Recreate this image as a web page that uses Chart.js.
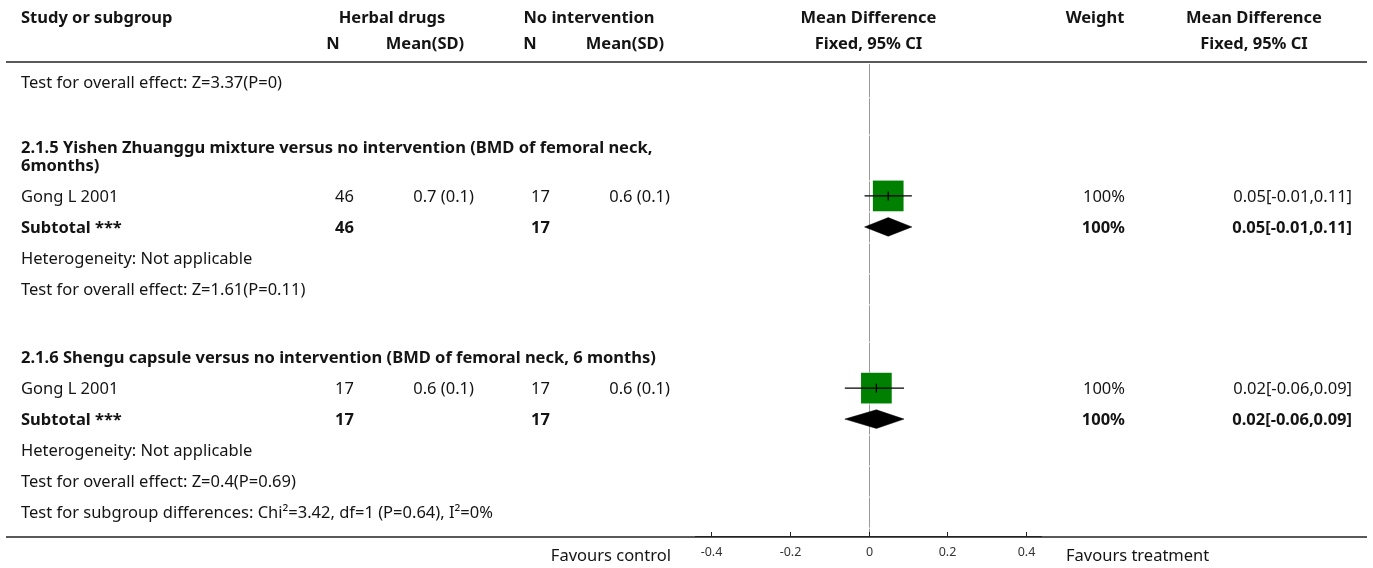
<!DOCTYPE html>
<html>
<head>
<meta charset="utf-8">
<script src="https://cdn.jsdelivr.net/npm/chart.js@4.4.1/dist/chart.umd.min.js"></script>
<style>
  html, body { margin: 0; padding: 0; background: #fff; }
  #wrap { width: 1373px; height: 568px; position: relative; }
</style>
</head>
<body>
<div id="wrap"><canvas id="forest" width="1373" height="568"></canvas></div>
<script>
// ---- data ----
const subgroupTitles = [
  ['2.1.5 Yishen Zhuanggu mixture versus no intervention (BMD of femoral neck,', '6months)'],
  ['2.1.6 Shengu capsule versus no intervention (BMD of femoral neck, 6 months)']
];
const studyNames = ['Gong L 2001', 'Gong L 2001'];
const herbalN = [46, 17];
const herbalMeanSD = ['0.7 (0.1)', '0.6 (0.1)'];
const controlN = [17, 17];
const controlMeanSD = ['0.6 (0.1)', '0.6 (0.1)'];
const meanDiff = [0.05, 0.02];
const ciLow = [-0.01, -0.06];
const ciHigh = [0.11, 0.09];
const weightPct = [100, 100];
const subtotalMeanDiff = [0.05, 0.02];
const subtotalLow = [-0.01, -0.06];
const subtotalHigh = [0.11, 0.09];
const heterogeneity = ['Not applicable', 'Not applicable'];
const overallEffect = ['Z=1.61(P=0.11)', 'Z=0.4(P=0.69)'];
const previousOverallEffect = 'Z=3.37(P=0)';
const subgroupDifferences = 'Chi\u00B2=3.42, df=1 (P=0.64), I\u00B2=0%';
const axisTicks = [-0.4, -0.2, 0, 0.2, 0.4];
const axisRange = [-0.44, 0.44];

// ---- table rows ----
const rows = [];
rows.push({ kind: 'note', text: 'Test for overall effect: ' + previousOverallEffect });
subgroupTitles.forEach((title, i) => {
  rows.push({ kind: 'blank' });
  rows.push({ kind: 'title', lines: title });
  rows.push({ kind: 'study', i });
  rows.push({ kind: 'subtotal', i });
  rows.push({ kind: 'note', text: 'Heterogeneity: ' + heterogeneity[i] });
  rows.push({ kind: 'note', text: 'Test for overall effect: ' + overallEffect[i] });
});
rows.push({ kind: 'note', text: 'Test for subgroup differences: ' + subgroupDifferences });

// vertical layout in row units
const ROW_PX = 31;
const TITLE_LINE = 0.58;   // spacing of wrapped title lines
const TITLE_TRIM = 0.1;    // wrapped titles sit a little tighter
const BLANK_EXTRA = 0.2;
let cursor = 0.14;
rows.forEach(r => {
  if (r.kind === 'blank') { cursor += 1 + BLANK_EXTRA; r.top = cursor; return; }
  r.top = cursor;
  const n = r.kind === 'title' ? r.lines.length : 1;
  const trim = n > 1 ? TITLE_TRIM : 0;
  r.y = cursor + 0.5 - trim;
  r.bottom = cursor + 1 + TITLE_LINE * (n - 1) - trim;
  cursor = r.bottom;
});
const TOP_RULE = 62, BOTTOM_RULE = 537;
const yMax = (BOTTOM_RULE - TOP_RULE) / ROW_PX;
const TEXT_DY = 1.5;       // optical centring of text within a row

const studyRow = i => rows.find(r => r.kind === 'study' && r.i === i).y;
const subtotalRow = i => rows.find(r => r.kind === 'subtotal' && r.i === i).y;

const fmt = v => v.toFixed(2);
const ciText = (m, l, h) => fmt(m) + '[' + fmt(l) + ',' + fmt(h) + ']';

// ---- datasets ----
const datasets = [];
meanDiff.forEach((m, i) => {
  const y = studyRow(i);
  // confidence interval whisker
  datasets.push({
    type: 'line', order: 0,
    data: [{ x: ciLow[i], y }, { x: ciHigh[i], y }],
    borderColor: '#000', borderWidth: 1.2, pointRadius: 0, fill: false
  });
  // point estimate tick
  datasets.push({
    type: 'scatter', order: 0,
    data: [{ x: m, y }],
    pointStyle: 'line', rotation: 90, pointRadius: 4.5,
    borderColor: '#000', borderWidth: 1.3
  });
  // weighted square
  datasets.push({
    type: 'scatter', order: 3,
    data: [{ x: m, y }],
    pointStyle: 'rect', pointRadius: 21.7 * Math.sqrt(weightPct[i] / 100),
    backgroundColor: '#008000', borderWidth: 0
  });
});
const DIAMOND_HALF = 0.3;
subtotalMeanDiff.forEach((m, i) => {
  const y = subtotalRow(i);
  datasets.push({
    type: 'line', order: 1,
    data: [
      { x: subtotalLow[i], y }, { x: m, y: y - DIAMOND_HALF },
      { x: subtotalHigh[i], y }, { x: m, y: y + DIAMOND_HALF },
      { x: subtotalLow[i], y }
    ],
    borderColor: '#000', borderWidth: 0.5, backgroundColor: '#000',
    pointRadius: 0, fill: 'shape', tension: 0
  });
});

// ---- drawing helpers ----
const FONT = '"Noto Sans", "Open Sans", sans-serif';
const TEXT = '#141414';
const BODY_SIZE = 16.5, BOLD_SIZE = 16.5;
function txt(ctx, s, x, y, align, bold, size, color) {
  ctx.font = (bold ? 'bold ' : '') + (size || (bold ? BOLD_SIZE : BODY_SIZE)) + 'px ' + FONT;
  ctx.textAlign = align || 'left';
  ctx.textBaseline = 'middle';
  ctx.fillStyle = color || TEXT;
  ctx.fillText(s, x, y);
}
function hline(ctx, x1, x2, y, w, color) {
  ctx.beginPath();
  ctx.lineWidth = w;
  ctx.strokeStyle = color;
  ctx.moveTo(x1, y); ctx.lineTo(x2, y);
  ctx.stroke();
}

// column anchors: value right edges and header centres
const COL = {
  left: 21,
  n1: 354, mean1: 474, n2: 550, mean2: 670,
  weight: 1125, md: 1352
};
const HEAD = {
  herbal: 392, control: 589,
  n1: 333, mean1: 425, n2: 530, mean2: 625,
  weight: 1095, md: 1254
};

const tablePlugin = {
  id: 'forestTable',
  beforeDatasetsDraw(chart) {
    const ctx = chart.ctx;
    const xs = chart.scales.x, ys = chart.scales.y;
    const x0 = Math.round(xs.getPixelForValue(0)) + 0.5;
    ctx.save();
    ctx.strokeStyle = '#9a9a9a';
    ctx.lineWidth = 1;
    // zero line, one segment per table row
    const bounds = [0];
    rows.forEach(r => { if (r.kind !== 'blank') bounds.push(r.bottom); else bounds.push(r.top); });
    bounds.push(yMax);
    for (let k = 0; k < bounds.length - 1; k++) {
      const a = ys.getPixelForValue(bounds[k]) + (k === 0 ? 2 : 1);
      const b = ys.getPixelForValue(bounds[k + 1]);
      if (b - a < 2) continue;
      ctx.beginPath(); ctx.moveTo(x0, a); ctx.lineTo(x0, b); ctx.stroke();
    }
    ctx.restore();
  },
  afterDraw(chart) {
    const ctx = chart.ctx;
    const xs = chart.scales.x, ys = chart.scales.y;
    ctx.save();
    // header
    const h1 = 18, h2 = 44;
    const mid = xs.getPixelForValue(0);
    txt(ctx, 'Study or subgroup', COL.left, h1, 'left', true);
    txt(ctx, 'Herbal drugs', HEAD.herbal, h1, 'center', true);
    txt(ctx, 'No intervention', HEAD.control, h1, 'center', true);
    txt(ctx, 'Mean Difference', mid, h1, 'center', true);
    txt(ctx, 'Weight', HEAD.weight, h1, 'center', true);
    txt(ctx, 'Mean Difference', HEAD.md, h1, 'center', true);
    txt(ctx, 'N', HEAD.n1, h2, 'center', true);
    txt(ctx, 'Mean(SD)', HEAD.mean1, h2, 'center', true);
    txt(ctx, 'N', HEAD.n2, h2, 'center', true);
    txt(ctx, 'Mean(SD)', HEAD.mean2, h2, 'center', true);
    txt(ctx, 'Fixed, 95% CI', mid, h2, 'center', true);
    txt(ctx, 'Fixed, 95% CI', HEAD.md, h2, 'center', true);
    hline(ctx, 6, 1367, TOP_RULE, 1.6, '#222');

    // body
    rows.forEach(r => {
      if (r.kind === 'blank') return;
      const y = ys.getPixelForValue(r.y) + TEXT_DY;
      if (r.kind === 'note') {
        txt(ctx, r.text, COL.left, y, 'left', false);
      } else if (r.kind === 'title') {
        r.lines.forEach((ln, j) => txt(ctx, ln, COL.left, ys.getPixelForValue(r.y + j * TITLE_LINE) + TEXT_DY, 'left', true));
      } else if (r.kind === 'study') {
        const i = r.i;
        txt(ctx, studyNames[i], COL.left, y, 'left', false);
        txt(ctx, String(herbalN[i]), COL.n1, y, 'right', false);
        txt(ctx, herbalMeanSD[i], COL.mean1, y, 'right', false);
        txt(ctx, String(controlN[i]), COL.n2, y, 'right', false);
        txt(ctx, controlMeanSD[i], COL.mean2, y, 'right', false);
        txt(ctx, weightPct[i] + '%', COL.weight, y, 'right', false);
        txt(ctx, ciText(meanDiff[i], ciLow[i], ciHigh[i]), COL.md, y, 'right', false);
      } else if (r.kind === 'subtotal') {
        const i = r.i;
        txt(ctx, 'Subtotal ***', COL.left, y, 'left', true);
        txt(ctx, String(herbalN[i]), COL.n1, y, 'right', true);
        txt(ctx, String(controlN[i]), COL.n2, y, 'right', true);
        txt(ctx, weightPct[i] + '%', COL.weight, y, 'right', true);
        txt(ctx, ciText(subtotalMeanDiff[i], subtotalLow[i], subtotalHigh[i]), COL.md, y, 'right', true);
      }
    });

    // axis
    const yb = ys.getPixelForValue(yMax);
    hline(ctx, 6, 1367, yb, 1.6, '#222');
    hline(ctx, xs.left, xs.right, yb - 0.5, 1.2, '#222');
    ctx.strokeStyle = '#222';
    ctx.lineWidth = 1;
    xs.ticks.forEach(t => {
      const px = Math.round(xs.getPixelForValue(t.value)) + 0.5;
      ctx.beginPath(); ctx.moveTo(px, yb); ctx.lineTo(px, yb - 5); ctx.stroke();
      txt(ctx, t.label, px, yb + 15, 'center', false, 12.5, '#333');
    });
    txt(ctx, 'Favours control', 671, yb + 19, 'right', false, 16.5);
    txt(ctx, 'Favours treatment', 1066, yb + 19, 'left', false, 16.5);
    ctx.restore();
  }
};

new Chart(document.getElementById('forest'), {
  type: 'scatter',
  data: { datasets },
  options: {
    responsive: false,
    animation: false,
    devicePixelRatio: 1,
    layout: { padding: { left: 695, right: 1373 - 1042, top: TOP_RULE, bottom: 568 - BOTTOM_RULE } },
    plugins: { legend: { display: false }, tooltip: { enabled: false } },
    scales: {
      x: {
        type: 'linear', display: false,
        min: axisRange[0], max: axisRange[1],
        afterBuildTicks: scale => { scale.ticks = axisTicks.map(v => ({ value: v, label: String(v) })); }
      },
      y: { type: 'linear', display: false, reverse: true, min: 0, max: yMax }
    }
  },
  plugins: [tablePlugin]
});
</script>
</body>
</html>
